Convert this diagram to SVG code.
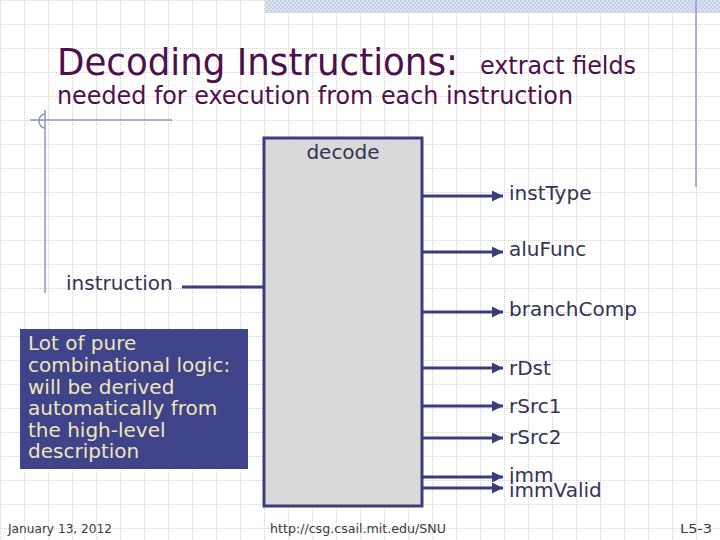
<svg xmlns="http://www.w3.org/2000/svg" width="720" height="540" viewBox="0 0 720 540">
<style>
.grid{stroke:#d2d2d2;stroke-width:1;stroke-dasharray:1,1}
.deco{stroke:#8c98c8;stroke-width:1.5;fill:none}
.title{font-family:"DejaVu Sans","Liberation Sans",sans-serif;fill:#4d104d}
.lbl{font-family:"DejaVu Sans","Liberation Sans",sans-serif;font-size:20px;fill:#333355}
.note{font-family:"DejaVu Sans","Liberation Sans",sans-serif;font-size:20px;fill:#f0e6b8}
.foot{font-family:"DejaVu Sans Condensed","DejaVu Sans","Liberation Sans",sans-serif;font-size:13px;fill:#3a3a3a}
.wire{stroke:#3c3c7c;stroke-width:3;fill:none}
.arr{stroke:#3c3c7c;stroke-width:3;fill:none;marker-end:url(#ah)}
</style>
<defs>
<pattern id="g" width="24" height="24" patternUnits="userSpaceOnUse">
<line class="grid" x1="0" y1="0.5" x2="24" y2="0.5"/>
<line class="grid" x1="0.5" y1="0" x2="0.5" y2="24"/>
</pattern>
<pattern id="hatch" width="4" height="4" patternUnits="userSpaceOnUse">
<rect width="4" height="4" fill="#dde4f2"/>
<rect width="2" height="2" fill="#c3cde6"/>
<rect x="2" y="2" width="2" height="2" fill="#c3cde6"/>
</pattern>
<marker id="ah" markerUnits="userSpaceOnUse" markerWidth="11" markerHeight="11" refX="11" refY="5.5" orient="auto">
<path d="M0,0 L11,5.5 L0,11 z" fill="#3c3c7c"/>
</marker>
</defs>
<rect width="720" height="540" fill="#ffffff"/>
<rect width="720" height="540" fill="url(#g)"/>
<rect x="265" y="0" width="455" height="13" fill="url(#hatch)"/>
<line class="deco" x1="696" y1="0" x2="696" y2="187"/>
<line class="deco" x1="30" y1="120" x2="172" y2="120"/>
<line class="deco" x1="45" y1="110" x2="45" y2="293"/>
<path class="deco" d="M45,114 A6,7 0 0 0 45,128"/>

<g id="title">
<text class="title" x="57" y="75" font-size="38" textLength="401" lengthAdjust="spacingAndGlyphs">Decoding Instructions:</text>
<text class="title" x="480" y="74" font-size="24" textLength="156" lengthAdjust="spacingAndGlyphs">extract fields</text>
<text class="title" x="57" y="104" font-size="24" textLength="516" lengthAdjust="spacingAndGlyphs">needed for execution from each instruction</text>
</g>

<g id="decode">
<rect x="264" y="138" width="158" height="368" fill="#d9d9d9" stroke="#3c3c7c" stroke-width="3"/>
<text class="lbl" x="343" y="159" text-anchor="middle">decode</text>
</g>

<g id="instruction">
<text class="lbl" x="66" y="290">instruction</text>
</g>

<g id="outputs">
<text class="lbl" x="509" y="200">instType</text>
<text class="lbl" x="509" y="256">aluFunc</text>
<text class="lbl" x="509" y="316">branchComp</text>
<text class="lbl" x="509" y="375">rDst</text>
<text class="lbl" x="509" y="413">rSrc1</text>
<text class="lbl" x="509" y="444">rSrc2</text>
<text class="lbl" x="509" y="482">imm</text>
<text class="lbl" x="509" y="497">immValid</text>
</g>

<g id="connectors">
<line class="wire" x1="182" y1="287" x2="264" y2="287"/>
<line class="arr" x1="422" y1="196" x2="503" y2="196"/>
<line class="arr" x1="422" y1="252" x2="503" y2="252"/>
<line class="arr" x1="422" y1="312" x2="503" y2="312"/>
<line class="arr" x1="422" y1="368" x2="503" y2="368"/>
<line class="arr" x1="422" y1="406" x2="503" y2="406"/>
<line class="arr" x1="422" y1="438" x2="503" y2="438"/>
<line class="arr" x1="422" y1="477" x2="503" y2="477"/>
<line class="arr" x1="422" y1="488" x2="503" y2="488"/>
</g>

<g id="note">
<rect x="20" y="329" width="228" height="140" fill="#3f438a"/>
<text class="note" x="28" y="350">Lot of pure</text>
<text class="note" x="28" y="372">combinational logic:</text>
<text class="note" x="28" y="394">will be derived</text>
<text class="note" x="28" y="415">automatically from</text>
<text class="note" x="28" y="437">the high-level</text>
<text class="note" x="28" y="458">description</text>
</g>

<g id="footer">
<text class="foot" x="8" y="533" textLength="104" lengthAdjust="spacingAndGlyphs">January 13, 2012</text>
<text class="foot" x="270" y="533" textLength="176" lengthAdjust="spacingAndGlyphs">http://csg.csail.mit.edu/SNU</text>
<text class="foot" x="712" y="533" font-size="15" text-anchor="end" textLength="32" lengthAdjust="spacingAndGlyphs">L5-3</text>
</g>
</svg>
